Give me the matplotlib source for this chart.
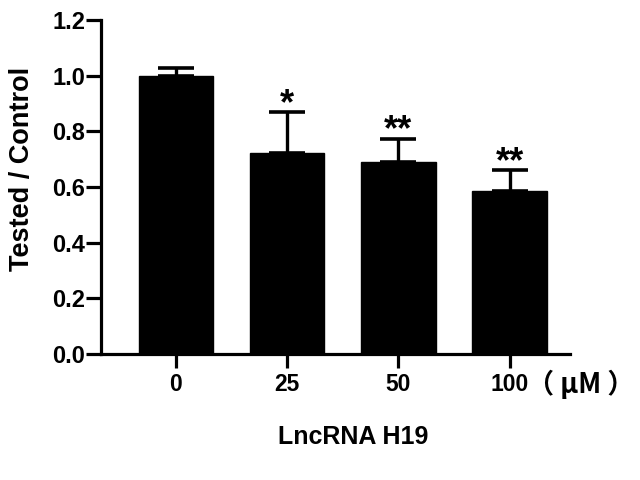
import matplotlib
matplotlib.use("Agg")
import matplotlib.pyplot as plt
import numpy as np

categories = ["0", "25", "50", "100"]
means = [1.00, 0.722, 0.689, 0.586]
errors = [0.028, 0.147, 0.085, 0.075]
stars = ["", "*", "**", "**"]
yticks = [0.0, 0.2, 0.4, 0.6, 0.8, 1.0, 1.2]

plt.rcParams['font.family'] = ['Liberation Sans', 'Noto Sans CJK SC', 'DejaVu Sans']
plt.rcParams['font.weight'] = 'bold'

fig = plt.figure(figsize=(6.4, 4.8), dpi=100)
ax = fig.add_axes([101/640, 1-354/480, (570-101)/640, (354-20)/480])

x = np.arange(len(categories))
ax.bar(x, means, width=0.67, color='black', edgecolor='black', zorder=2)
ax.errorbar(x, means, yerr=[np.zeros(len(errors)), errors], fmt='none',
            ecolor='black', elinewidth=2.4, capsize=13.3, capthick=2.6, zorder=3)

for xi, m, e, s in zip(x, means, errors, stars):
    if s:
        ax.annotate(s, xy=(xi, m + e), xytext=(0, -1.5), textcoords='offset points',
                    ha='center', va='baseline', fontsize=26, fontweight='bold',
                    color='black')

ax.set_xlim(-0.673, 3.543)
ax.set_ylim(0, 1.2)
ax.set_yticks(yticks)
ax.set_yticklabels([f"{v:.1f}" for v in yticks])
ax.set_xticks(x)
ax.set_xticklabels(categories)

for side in ['top', 'right']:
    ax.spines[side].set_visible(False)
for side in ['left', 'bottom']:
    ax.spines[side].set_linewidth(2.3)

ax.tick_params(axis='y', length=10.5, width=2.3, labelsize=17, pad=1)
ax.tick_params(axis='x', length=10, width=2.3, labelsize=16.5, pad=3.5)
for lbl in ax.get_xticklabels() + ax.get_yticklabels():
    lbl.set_fontweight('bold')

fig.text(22/640, 1-169/480, "Tested / Control", fontsize=19.5, fontweight='bold',
         rotation=90, ha='center', va='center')

fig.text(581/640, 1-384/480, "（ μM ）", fontsize=19.5, fontweight='bold',
         ha='center', va='center', family=['Noto Sans CJK SC', 'DejaVu Sans'])
fig.text(353/640, 1-437/480, "LncRNA H19", fontsize=18, fontweight='bold',
         ha='center', va='center')

fig.savefig("out.png", dpi=100)
